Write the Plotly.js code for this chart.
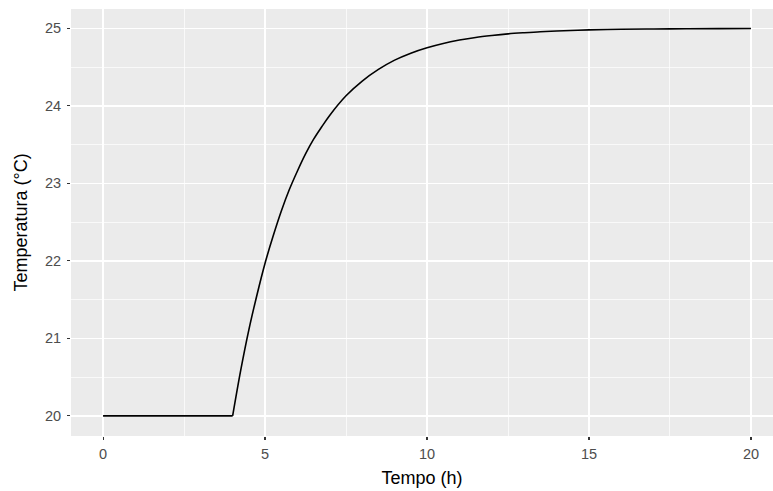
<!DOCTYPE html>
<html>
<head>
<meta charset="utf-8">
<script src="https://cdn.plot.ly/plotly-3.0.1.min.js"></script>
<style>html,body{margin:0;padding:0;background:#fff;}#chart{width:773px;height:491px;}</style>
</head>
<body>
<div id="chart"></div>
<script>
// Values
const tempoFlat = [0, 4];
const temperaturaFlat = [20, 20];
const tempo = [4, 4.25, 4.5, 4.75, 5, 5.25, 5.5, 5.75, 6, 6.25, 6.5, 6.75, 7, 7.5, 8, 8.5, 9, 9.5, 10, 10.5, 11, 11.5, 12, 12.5, 13, 13.5, 14, 15, 16, 17, 18, 19, 20];
const temperatura = [20, 20.59, 21.11, 21.56, 21.97, 22.32, 22.64, 22.92, 23.16, 23.38, 23.57, 23.73, 23.88, 24.13, 24.32, 24.47, 24.59, 24.68, 24.75, 24.806, 24.849, 24.883, 24.908, 24.929, 24.944, 24.957, 24.966, 24.98, 24.988, 24.992, 24.995, 24.997, 24.998];
const xTicks = [0, 5, 10, 15, 20];
const yTicks = [20, 21, 22, 23, 24, 25];

const FONT = 'Liberation Sans, Arial, sans-serif';
const axisCommon = {
  showline: false, zeroline: false,
  showgrid: true, gridcolor: '#ffffff', gridwidth: 1.4,
  ticks: 'outside', ticklen: 3, tickwidth: 1.1, tickcolor: '#333333',
  tickfont: {family: FONT, size: 14.5, color: '#4d4d4d'},
  tickmode: 'array'
};

Plotly.newPlot('chart', [{
  x: tempoFlat, y: temperaturaFlat, type: 'scatter', mode: 'lines',
  line: {color: '#000000', width: 1.6}, hoverinfo: 'skip'
}, {
  x: tempo, y: temperatura, type: 'scatter', mode: 'lines',
  line: {color: '#000000', width: 1.6, shape: 'spline', smoothing: 1}, hoverinfo: 'skip'
}], {
  width: 773, height: 491,
  margin: {l: 71, r: 0, t: 9, b: 55},
  paper_bgcolor: '#ffffff', plot_bgcolor: '#ebebeb',
  showlegend: false,
  xaxis: Object.assign({}, axisCommon, {
    range: [-0.99, 20.68], tickvals: xTicks, ticktext: xTicks.map(String),
    ticklabelstandoff: 2,
    minor: {tickvals: [2.5, 7.5, 12.5, 17.5], showgrid: true, gridcolor: '#ffffff', gridwidth: 0.7, ticks: ''},
    title: {text: 'Tempo (h)', font: {family: FONT, size: 18, color: '#000'}, standoff: 9}
  }),
  yaxis: Object.assign({}, axisCommon, {
    range: [19.74, 25.25], tickvals: yTicks, ticktext: yTicks.map(String),
    ticklabelstandoff: 3,
    minor: {tickvals: [20.5, 21.5, 22.5, 23.5, 24.5], showgrid: true, gridcolor: '#ffffff', gridwidth: 0.7, ticks: ''},
    title: {text: 'Temperatura (°C)', font: {family: FONT, size: 18, color: '#000'}, standoff: 12}
  })
}, {staticPlot: true, displayModeBar: false});
</script>
</body>
</html>
